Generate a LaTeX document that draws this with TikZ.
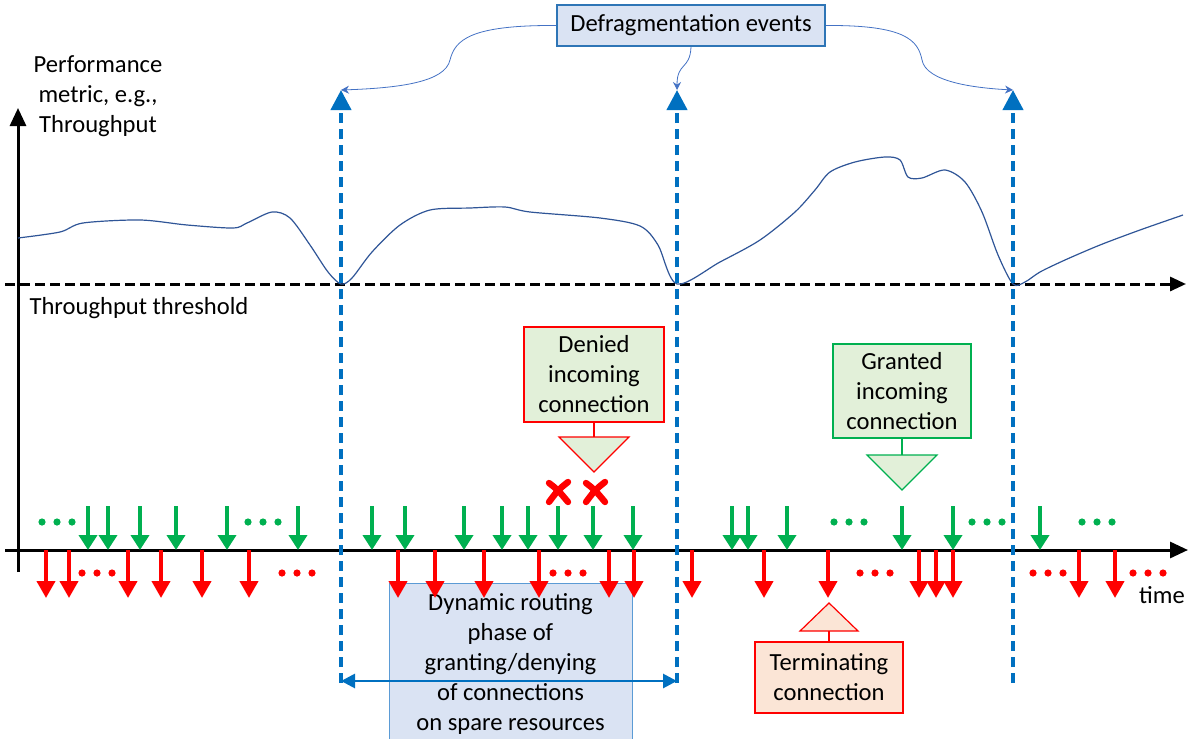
\documentclass[tikz,border=0pt]{standalone}
\usepackage{fontspec}
\setmainfont{Carlito}
\usetikzlibrary{arrows.meta}
\definecolor{evblue}{HTML}{0070C0}
\definecolor{curveblue}{HTML}{2F5597}
\definecolor{connblue}{HTML}{4472C4}
\definecolor{boxblue}{HTML}{DAE3F3}
\definecolor{boxborder}{HTML}{2E75B6}
\definecolor{phaseborder}{HTML}{5B9BD5}
\definecolor{lightgreen}{HTML}{E2F0D9}
\definecolor{grn}{HTML}{00B050}
\definecolor{lightorange}{HTML}{FBE5D6}
\tikzstyle{txt} = [font=\fontsize{12.3}{15}\selectfont, align=center, inner sep=0pt]
\tikzstyle{eventbox} = [rectangle, txt, fill=boxblue, draw=boxborder, line width=1pt, minimum width=134pt, minimum height=20.5pt]
\tikzstyle{phasebox} = [rectangle, txt, fill=boxblue, draw=phaseborder, line width=0.5pt, minimum width=121.5pt, minimum height=81pt]
\tikzstyle{callout} = [rectangle, txt, line width=0.6pt]
\tikzstyle{axis} = [line width=1.5pt, -{Triangle[width=8pt,length=9pt]}]
\tikzstyle{threshold} = [line width=1.5pt, dash pattern=on 5pt off 2.5pt, -{Triangle[width=7pt,length=8pt]}]
\tikzstyle{eventline} = [draw=evblue, line width=2pt, dash pattern=on 5pt off 3pt, -{Triangle[width=10pt,length=10pt]}]
\tikzstyle{phasearrow} = [draw=evblue, line width=1.4pt, {Triangle[width=7pt,length=7pt]}-{Triangle[width=7pt,length=7pt]}]
\tikzstyle{pointer} = [draw=connblue, line width=0.4pt, -{Stealth[length=4pt,width=4pt]}]
\tikzstyle{perf} = [draw=curveblue, line width=0.6pt]
\tikzstyle{granted} = [draw=grn, line width=2pt, -{Triangle[width=9pt,length=7.5pt]}]
\tikzstyle{ended} = [draw=red, line width=2pt, -{Triangle[width=9pt,length=8.5pt]}]
\tikzstyle{cross} = [draw=red, line width=3.2pt, line cap=round]

\begin{document}
\begin{tikzpicture}[x=0.5pt, y=-0.5pt]
	\useasboundingbox (0,0) rectangle (1192,738);

	% phase box first, arrows go over it
	\node (phase) [phasebox] at (510.5,664) {Dynamic routing\\phase of\\granting/denying\\of connections\\on spare resources};

	% axes and threshold
	\draw[axis] (18,572) -- (18,108);
	\draw[axis] (5,550) -- (1188,550);
	\draw[threshold] (5,284) -- (1186,284);

	\node (metric) [txt] at (98,96) {Performance\\metric, e.g.,\\Throughput};
	\node (thresh) [txt] at (139,308) {Throughput threshold};
	\node (time) [txt] at (1162,595) {time};

	% performance curve
	\draw[perf] plot[smooth, tension=0.5] coordinates {(18,238) (60,232) (83,223) (140,220) (187,225) (233,228) (247,223) (272,212) (290,218) (310,245) (328,272) (341,284) (352,278) (372,252) (400,225) (430,210) (470,208) (505,207) (530,212) (600,218) (640,226) (658,245) (677,284) (720,262) (760,240) (795,212) (815,190) (830,172) (855,162) (885,157) (900,160) (908,177) (922,178) (945,170) (965,182) (982,212) (998,255) (1013,284) (1025,282) (1040,272) (1065,260) (1100,245) (1140,230) (1183,215)};

	% defragmentation events
	\foreach \n/\x in {a/341, b/677, c/1013} {
		\coordinate (top\n) at (\x,90);
		\coordinate (bot\n) at (\x,683);
		\draw[eventline] (bot\n) -- (top\n);
	}
	\draw[phasearrow] ([yshift=1pt]bota) -- ([yshift=1pt]botb);

	\node (defrag) [eventbox] at (691,25.5) {Defragmentation events};
	\draw[pointer] (defrag.west) .. controls (470,25) and (455,40) .. (450,60) .. controls (445,82) and (400,88) .. (topa);
	\draw[pointer] (defrag.south) .. controls (690,70) and (677,62) .. (topb);
	\draw[pointer] (defrag.east) .. controls (905,25) and (918,40) .. (922,60) .. controls (926,82) and (975,88) .. (topc);

	% incoming and terminating connections
	\foreach \x in {88,108,140,176,227,298,372,405,464,502,528,558,593,633,732,748,787,902,953,1040}
		\draw[granted] (\x,506) -- (\x,550);
	\foreach \x in {46,69,128,161,202,249,398,435,484,539,609,634,692,764,828,919,936,953,1079,1115}
		\draw[ended] (\x,550) -- (\x,598);
	\foreach \x in {42,248,834,972,1082}
		\foreach \d in {0,15,30}
			\fill[grn] (\x+\d,522) circle (1.8pt);
	\foreach \x in {82,282,553,860,1033,1133}
		\foreach \d in {0,15,30}
			\fill[red] (\x+\d,573) circle (1.8pt);

	% denied ones
	\foreach \x in {558,595} {
		\draw[cross] (\x-9,483) .. controls (\x,490) .. (\x+10,502);
		\draw[cross] (\x-9,502) .. controls (\x,490) .. (\x+10,482);
	}

	% callouts
	\node (denied) [callout, draw=red, fill=lightgreen, minimum width=70pt, minimum height=47.5pt] at (594,374.5) {Denied\\incoming\\connection};
	\coordinate (deniedtri) at (594,437);
	\draw[red, fill=lightgreen, line width=0.6pt] (559,437) -- (629,437) -- (594,472) -- cycle;
	\draw[red, line width=0.8pt] (denied.south) -- (deniedtri);

	\node (granted) [callout, draw=grn, fill=lightgreen, minimum width=69pt, minimum height=47pt] at (902,391) {Granted\\incoming\\connection};
	\coordinate (grantedtri) at (902,455);
	\draw[grn, fill=lightgreen, line width=0.6pt] (867,455) -- (937,455) -- (902,490) -- cycle;
	\draw[grn, line width=0.8pt] (granted.south) -- (grantedtri);

	\node (terminating) [callout, draw=red, fill=lightorange, minimum width=74pt, minimum height=35.5pt] at (829,677.5) {Terminating\\connection};
	\coordinate (terminatingtri) at (829,631);
	\draw[red, fill=lightorange, line width=0.6pt] (800,631) -- (858,631) -- (829,603) -- cycle;
	\draw[red, line width=0.8pt] (terminating.north) -- (terminatingtri);
\end{tikzpicture}
\end{document}
